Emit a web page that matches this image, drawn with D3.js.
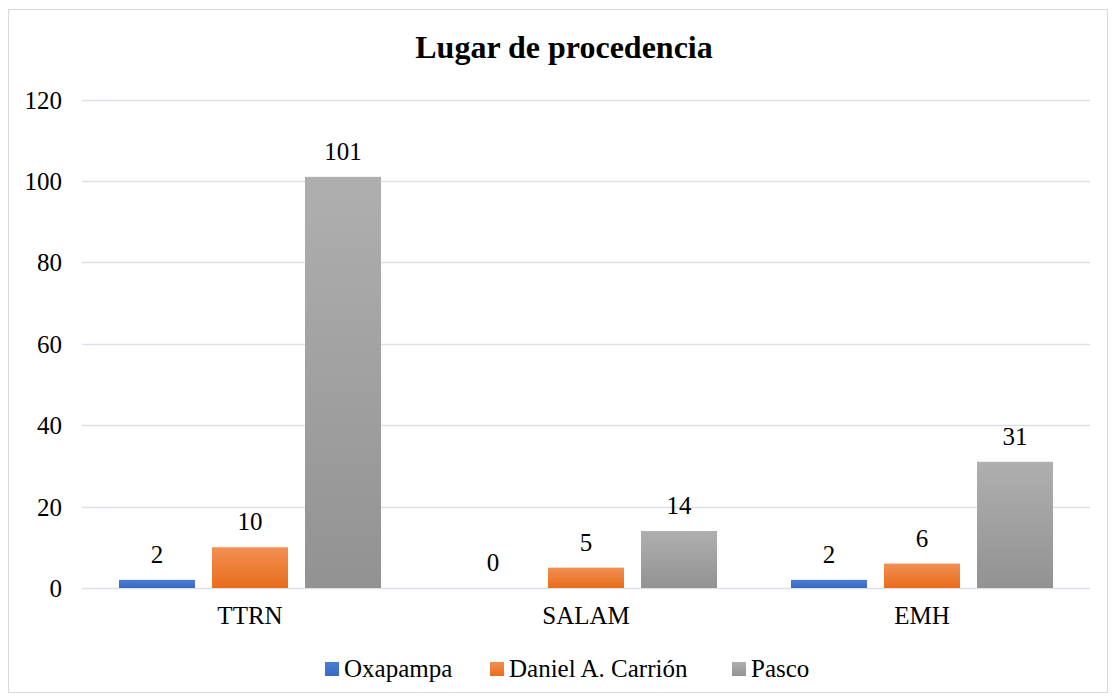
<!DOCTYPE html>
<html><head><meta charset="utf-8">
<script src="https://cdn.jsdelivr.net/npm/d3@7"></script>
<style>html,body{margin:0;padding:0;background:#fff;}svg{display:block;}
svg text{font-family:'Liberation Serif','Times New Roman',serif;}</style>
</head><body>
<svg id="chart" width="1116" height="699"></svg>
<script>
const categories = ["TTRN", "SALAM", "EMH"];
const seriesNames = ["Oxapampa", "Daniel A. Carrión", "Pasco"];
const oxapampa = [2, 0, 2];
const danielCarrion = [10, 5, 6];
const pasco = [101, 14, 31];
const yTicks = [0, 20, 40, 60, 80, 100, 120];
const chartTitle = "Lugar de procedencia";

(function () {
const seriesValues = [oxapampa, danielCarrion, pasco];
const colors = [
  {top: "#4a7dd4", bottom: "#3a69c2"},
  {top: "#f28f52", bottom: "#e86d1b"},
  {top: "#afafaf", bottom: "#929292"}
];

const svg = d3.select("#chart");
const fs = 25;

svg.append("rect").attr("x", 8.5).attr("y", 9.5).attr("width", 1099).attr("height", 683)
  .attr("fill", "#fff").attr("stroke", "#d9d9d9").attr("stroke-width", 1);

const defs = svg.append("defs");
colors.forEach((c, i) => {
  const g = defs.append("linearGradient").attr("id", "grad" + i)
    .attr("x1", 0).attr("y1", 0).attr("x2", 0).attr("y2", 1);
  g.append("stop").attr("offset", "0%").attr("stop-color", c.top);
  g.append("stop").attr("offset", "100%").attr("stop-color", c.bottom);
});

const pLeft = 82, pRight = 1090, pTop = 99.5, pBottom = 588;
const y = d3.scaleLinear().domain([0, 120]).range([pBottom, pTop]);
const x0 = d3.scaleBand().domain(categories).range([pLeft, pRight]).paddingInner(0).paddingOuter(0);
const groupPad = 37;
const x1 = d3.scaleBand().domain(d3.range(seriesNames.length))
  .range([groupPad, x0.bandwidth() - groupPad]).paddingInner(17 / 93).paddingOuter(0);

svg.append("g").selectAll("line").data(yTicks).join("line")
  .attr("x1", pLeft).attr("x2", pRight)
  .attr("y1", d => Math.round(y(d)) + 0.5).attr("y2", d => Math.round(y(d)) + 0.5)
  .attr("stroke", "#dde1e7").attr("stroke-width", 1.5);

const yAxis = d3.axisLeft(y).tickValues(yTicks).tickSize(0).tickPadding(0);
const ya = svg.append("g").attr("transform", "translate(62,0)").call(yAxis);
ya.select(".domain").remove();
ya.selectAll("text").attr("font-family", null).attr("font-size", fs).attr("fill", "#000").attr("dy", "0.34em");

const xAxis = d3.axisBottom(x0).tickSize(0).tickPadding(0);
const xa = svg.append("g").attr("transform", `translate(0,${pBottom})`).call(xAxis);
xa.select(".domain").remove();
xa.selectAll("text").attr("font-family", null).attr("font-size", fs).attr("fill", "#000")
  .attr("y", 36).attr("dy", null);

categories.forEach((cat, ci) => {
  const g = svg.append("g").attr("transform", `translate(${x0(cat)},0)`);
  seriesValues.forEach((vals, si) => {
    const v = vals[ci];
    if (v > 0) {
      g.append("rect").attr("x", x1(si)).attr("width", x1.bandwidth())
        .attr("y", y(v)).attr("height", y(0) - y(v))
        .attr("fill", `url(#grad${si})`);
    }
    g.append("text").attr("x", x1(si) + x1.bandwidth() / 2).attr("y", y(v) - 17)
      .attr("text-anchor", "middle").attr("font-size", fs)
      .attr("fill", "#000").text(v);
  });
});

svg.append("text").attr("x", 564).attr("y", 58).attr("text-anchor", "middle")
  .attr("font-weight", "bold").attr("font-size", 32)
  .attr("fill", "#000").text(chartTitle);

const legendX = [325, 490, 732];
const lg = svg.append("g");
seriesNames.forEach((n, i) => {
  lg.append("rect").attr("x", legendX[i]).attr("y", 662).attr("width", 14).attr("height", 14)
    .attr("fill", `url(#grad${i})`);
  lg.append("text").attr("x", legendX[i] + 19).attr("y", 677)
    .attr("font-size", fs).attr("fill", "#000").text(n);
});
})();
</script>
</body></html>
